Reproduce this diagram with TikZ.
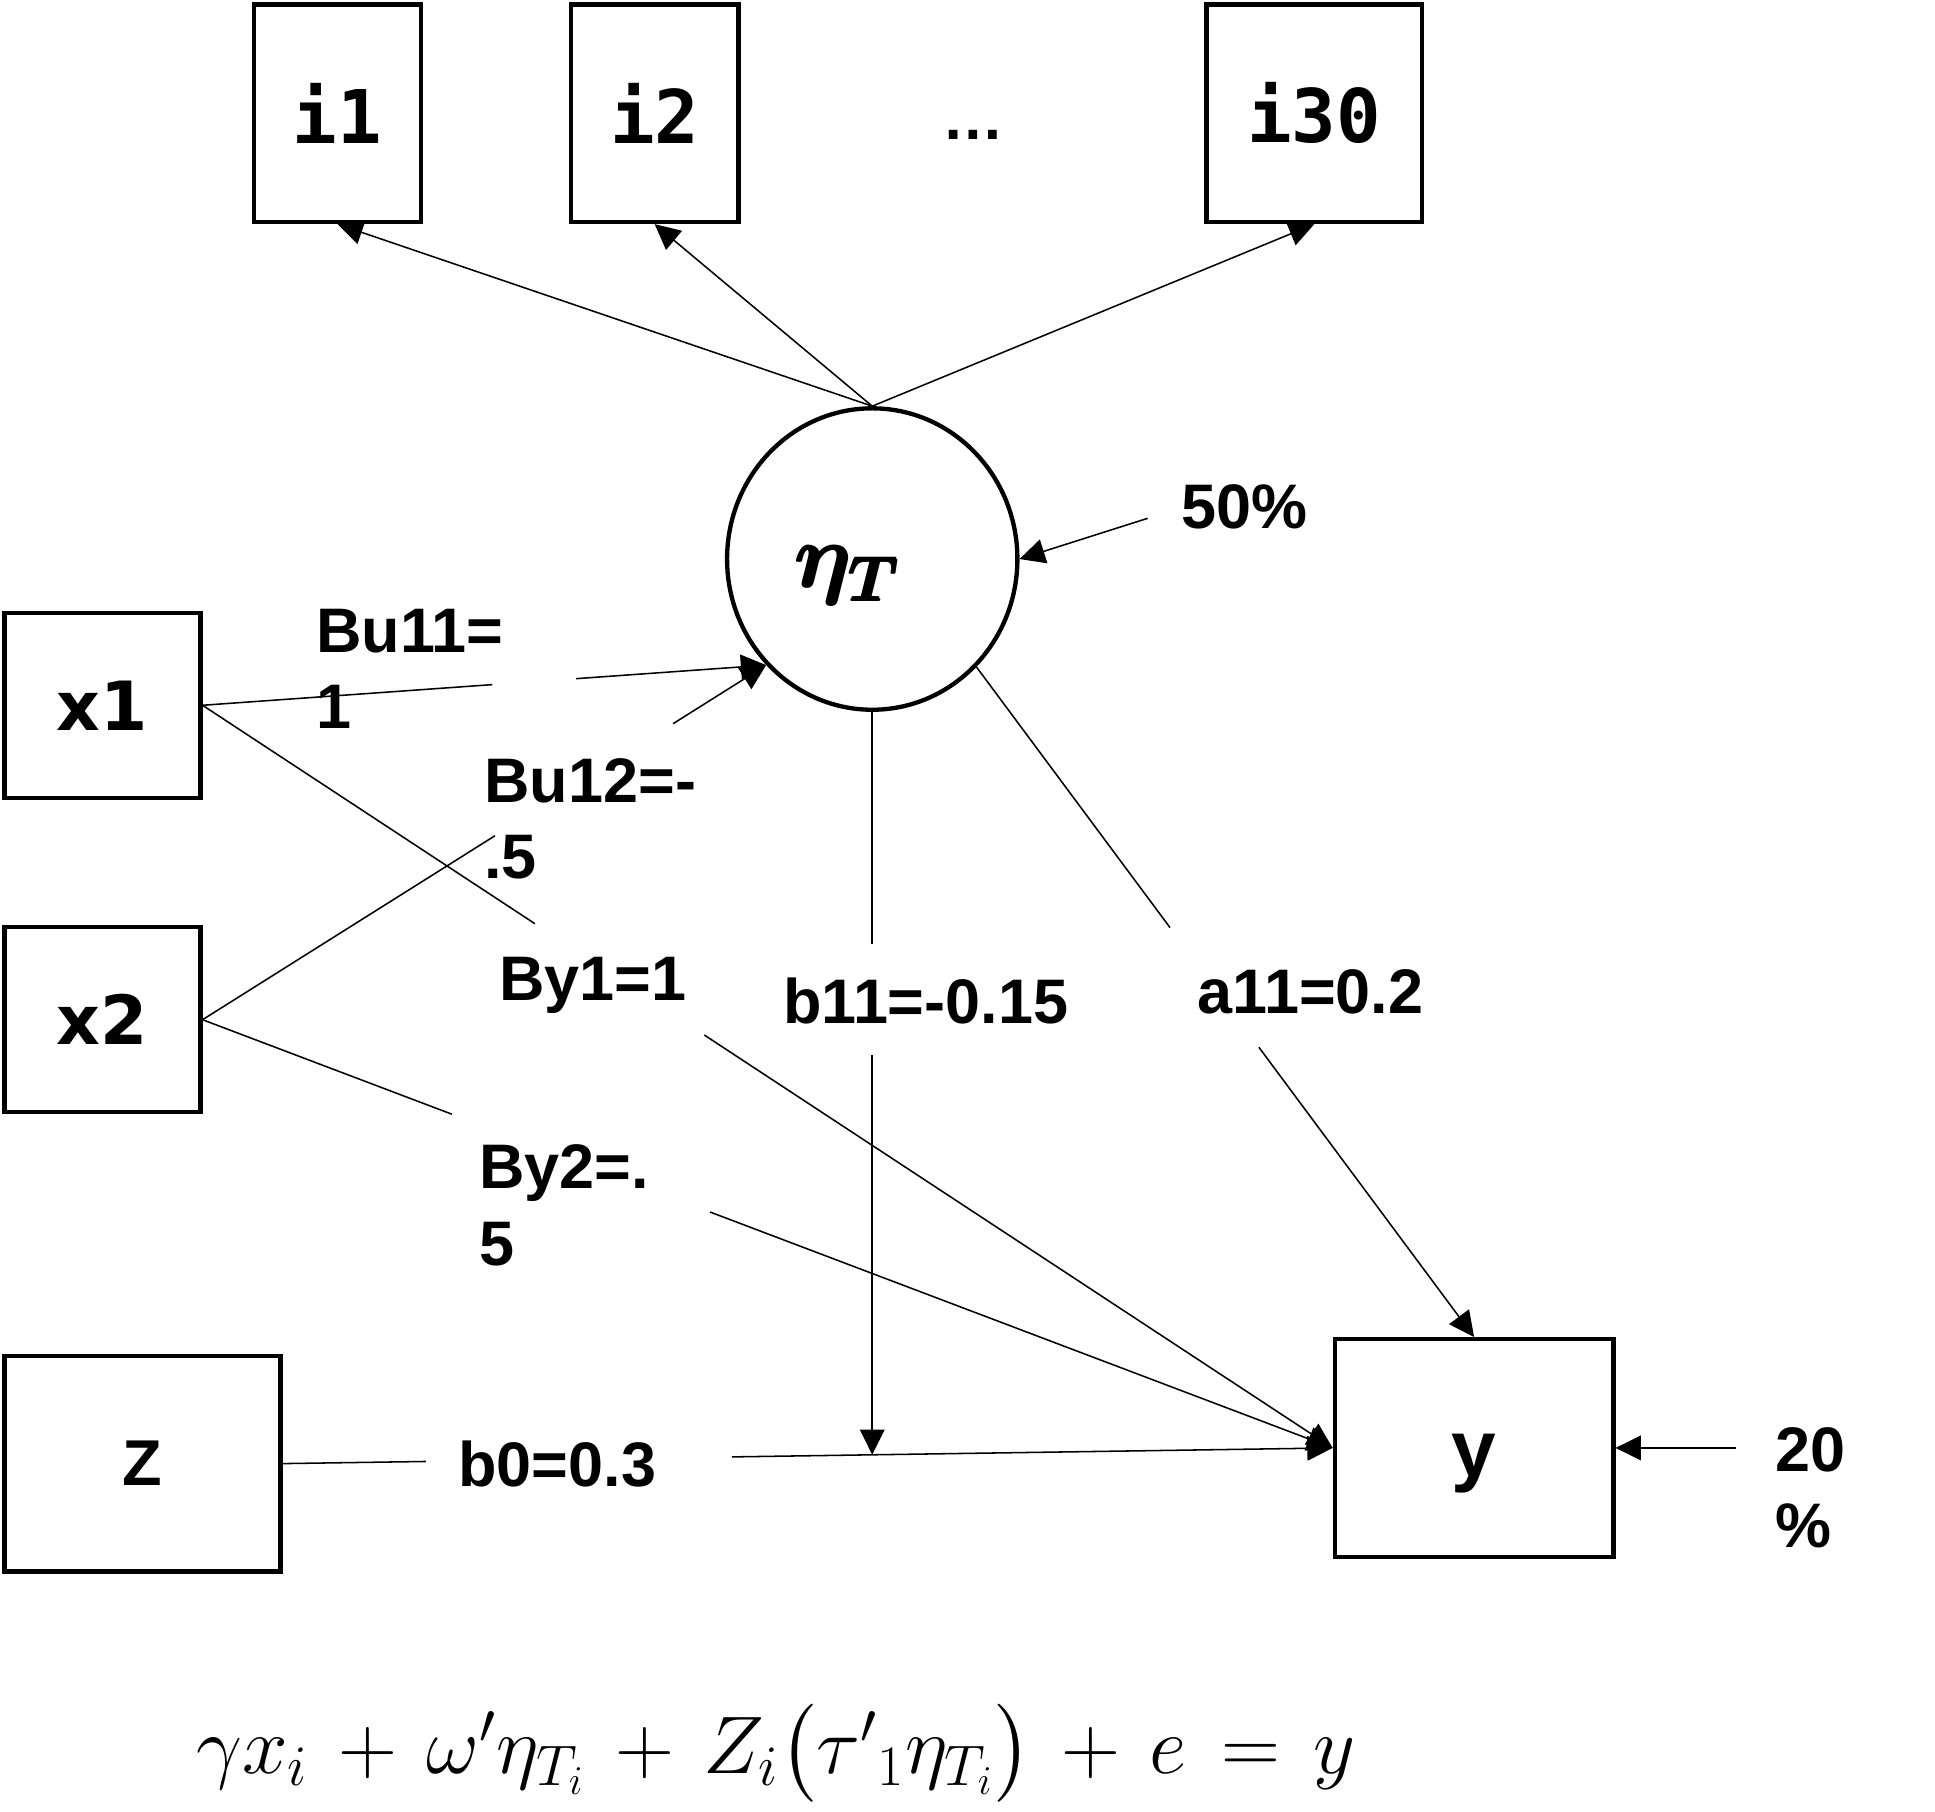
\RequirePackage{fix-cm}
\documentclass[tikz,border=0pt]{standalone}
\usepackage{amsmath}
\usepackage{amssymb}
\usepackage{bm}
\usepackage[no-math]{fontspec}
\setmainfont{Liberation Sans}
\newfontfamily\itemfont{DejaVu Sans Mono}
\newfontfamily\varfont{DejaVu Sans}
\usetikzlibrary{arrows.meta,shapes.geometric}

\tikzset{
  obs/.style={draw, line width=1.4pt, inner sep=0pt},
  item/.style={obs, minimum width=54.3pt, minimum height=70.5pt, font=\itemfont\bfseries\fontsize{24}{28}\selectfont},
  covar/.style={obs, minimum width=63.5pt, minimum height=59.9pt, font=\varfont\bfseries\fontsize{22}{26}\selectfont},
  latent/.style={draw, ellipse, line width=1.4pt, inner sep=0pt, minimum width=94.1pt, minimum height=97.7pt},
  coef/.style={inner sep=0pt, anchor=north west, align=left, font=\bfseries\fontsize{20.4}{24.8}\selectfont},
  lnk/.style={-{Triangle[length=8.2pt, width=8pt]}, line width=0.5pt},
}

\begin{document}
\begin{tikzpicture}[x=0.4pt, y=-0.4pt]
  \useasboundingbox (0,0) rectangle (1568,1468);

  % Items
  \node[item] (i1) at (273.5,91.75) {i1};
  \node[item] (i2) at (530.5,91.75) {i2};
  \node[font=\bfseries\fontsize{20}{24}\selectfont] (dots) at (789,109) {…};
  \node[item, minimum width=69.9pt] (i30) at (1065,91.75) {i30};

  % Latent trait
  \node[latent, label={[xshift=-7.7pt, yshift=-5.4pt, font=\fontsize{29}{34}\selectfont\boldmath]center:\pmb{$\eta_T$}}] (eta) at (706.8,453) {};

  % Covariates and outcome
  \node[covar] (x1) at (83,571.5) {x1};
  \node[covar] (x2) at (83,826.3) {x2};
  \node[obs, minimum width=89.5pt, minimum height=69.9pt, font=\bfseries\fontsize{21}{25}\selectfont] (Z) at (115.5,1186) {Z};
  \node[obs, minimum width=90.3pt, minimum height=70.5pt, text height=18.4pt, text depth=0pt, font=\bfseries\fontsize{26}{30}\selectfont] (y) at (1194.5,1173.3) {y};

  % Coefficients
  \node[coef] (lbu11) at (256,493) {Bu11=\\1};
  \node[coef] (lbu12) at (392,614) {Bu12=-\\.5};
  \node[coef] (lby1) at (404,775) {By1=1};
  \node[coef] (lby2) at (388,927) {By2=.\\5};
  \node[coef] (lb11) at (634,792) {b11=-0.15};
  \node[coef] (la11) at (970,785) {a11=0.2};
  \node[coef] (lb0) at (371,1167) {b0=0.3};
  \node[coef] (l50) at (957,392) {50\%};
  \node[coef] (l20) at (1438,1156) {20\\\%};
  \coordinate (s50) at (930,420);
  \coordinate (s20) at (1406.6,1173.3);

  % Loadings
  \draw[lnk] (eta.north) -- (i1.south);
  \draw[lnk] (eta.north) -- (i2.south);
  \draw[lnk] (eta.north) -- (i30.south);

  % Residuals
  \draw[lnk] (s50) -- (eta.east);
  \draw[lnk] (s20) -- (y.east);

  % Regressions
  \draw[lnk, dash pattern=on 94.2pt off 27.2pt on 2000pt] (x1.east) -- (eta.225);
  \draw[lnk, dash pattern=on 112pt off 68.2pt on 2000pt] (x2.east) -- (eta.225);
  \draw[lnk, dash pattern=on 128.9pt off 65.7pt on 2000pt] (x1.east) -- (y.west);
  \draw[lnk, dash pattern=on 86.4pt off 89.5pt on 2000pt] (x2.east) -- (y.west);
  \draw[lnk, dash pattern=on 46.4pt off 99.2pt on 2000pt] (Z.east) -- coordinate[pos=0.5614] (zmid) (y.west);
  \draw[lnk, dash pattern=on 105.2pt off 48.3pt on 2000pt] (eta.-46) -- (y.north);

  % Moderation
  \draw[lnk, dash pattern=on 75.3pt off 36pt on 2000pt] (eta.south) -- (eta.south |- zmid);

  % Equation
  \node[anchor=base, font=\fontsize{26.5}{31}\selectfont] (eq) at (629,1437) {\medmuskip=6.5mu\thickmuskip=7.5mu$\gamma x_i + \omega'\eta_{T_i} + Z_i\bigl({\tau'}_1\eta_{T_i}\bigr) + e = y$};
\end{tikzpicture}
\end{document}
